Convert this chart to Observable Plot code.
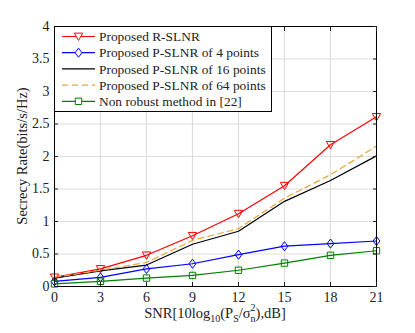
<!DOCTYPE html>
<html><head><meta charset="utf-8">
<script src="https://cdn.jsdelivr.net/npm/d3@7"></script>
<script src="https://cdn.jsdelivr.net/npm/@observablehq/plot@0.6"></script>
<style>body{margin:0;background:#fff}#chart{position:relative;width:415px;height:333px}
#chart svg, #chart svg text, #chart svg tspan{font-family:'Liberation Serif', serif !important}</style>
</head><body><div id="chart"></div>
<script>
const snr = [0, 3, 6, 9, 12, 15, 18, 21];
const rSLNR = [0.14, 0.27, 0.48, 0.78, 1.12, 1.55, 2.18, 2.61];
const pSLNR4 = [0.08, 0.14, 0.27, 0.35, 0.49, 0.62, 0.66, 0.70];
const pSLNR16 = [0.13, 0.24, 0.33, 0.65, 0.85, 1.31, 1.63, 2.01];
const pSLNR64 = [0.14, 0.25, 0.37, 0.71, 0.89, 1.36, 1.72, 2.16];
const nonRobust = [0.04, 0.08, 0.13, 0.17, 0.25, 0.36, 0.48, 0.55];
const xTicks = [0, 3, 6, 9, 12, 15, 18, 21];
const yTicks = [0, 0.5, 1, 1.5, 2, 2.5, 3, 3.5, 4];
const yTickLabels = ["0", "0.5", "1", "1.5", "2", "2.5", "3", "3.5", "4"];
const seriesNames = ["Proposed R-SLNR", "Proposed P-SLNR of 4 points", "Proposed P-SLNR of 16 points", "Proposed P-SLNR of 64 points", "Non robust method in [22]"];

const triDown = {draw(c, size){const r=Math.sqrt(size/Math.PI); c.moveTo(-r,-r*0.8); c.lineTo(r,-r*0.8); c.lineTo(0,r*0.95); c.closePath();}};
const diamond = {draw(c, size){const r=Math.sqrt(size/Math.PI); c.moveTo(0,-r*1.2); c.lineTo(r*0.9,0); c.lineTo(0,r*1.2); c.lineTo(-r*0.9,0); c.closePath();}};
const square = {draw(c, size){const r=Math.sqrt(size/Math.PI); c.rect(-r,-r,2*r,2*r);}};

const series = [
  {name: seriesNames[0], values: rSLNR, color: "#ff0000", symbol: triDown, r: 4.2, dash: null},
  {name: seriesNames[1], values: pSLNR4, color: "#0000ff", symbol: diamond, r: 3.8, dash: null},
  {name: seriesNames[2], values: pSLNR16, color: "#000000", symbol: null, r: 0, dash: null},
  {name: seriesNames[3], values: pSLNR64, color: "#EDA33A", symbol: null, r: 0, dash: "6,4"},
  {name: seriesNames[4], values: nonRobust, color: "#008000", symbol: square, r: 3.2, dash: null}
];

const ff = "Liberation Serif";
const marks = [
  Plot.ruleX(xTicks, {stroke: "#dedede", strokeWidth: 1.2}),
  Plot.ruleY(yTicks, {stroke: "#dedede", strokeWidth: 1.2})
];
for (const s of series) {
  const data = snr.map((x, i) => ({x, y: s.values[i]}));
  marks.push(Plot.line(data, {x: "x", y: "y", stroke: s.color, strokeWidth: 1.2, strokeDasharray: s.dash}));
  if (s.symbol) marks.push(Plot.dot(data, {x: "x", y: "y", stroke: s.color, fill: "none", symbol: s.symbol, r: s.r, strokeWidth: 1}));
}
marks.push(
  Plot.frame({stroke: "black", strokeWidth: 1}),
  Plot.axisX(xTicks, {anchor: "bottom", tickSize: 0, tickPadding: 6, fontSize: 14, fill: "#222"}),
  Plot.axisY(yTicks, {anchor: "left", tickSize: 0, tickPadding: 5, fontSize: 14, fill: "#222", tickFormat: (d, i) => yTickLabels[i]}),
  Plot.axisX(xTicks, {anchor: "bottom", tickSize: -4, text: null}),
  Plot.axisX(xTicks, {anchor: "top", tickSize: -4, text: null}),
  Plot.axisY(yTicks, {anchor: "left", tickSize: -4, text: null}),
  Plot.axisY(yTicks, {anchor: "right", tickSize: -4, text: null})
);

const chart = Plot.plot({
  width: 415, height: 333,
  marginLeft: 54, marginRight: 39, marginTop: 26, marginBottom: 47,
  x: {domain: [0, 21], label: null},
  y: {domain: [0, 4], label: null},
  style: {fontFamily: ff, fontSize: "14px", background: "white", color: "#222"},
  marks
});
document.getElementById("chart").appendChild(chart);

const svg = d3.select(chart);
// axis titles
const xt = svg.append("text").attr("x", 215).attr("y", 318).attr("text-anchor", "middle")
  .attr("font-family", ff).attr("font-size", 14.5).attr("fill", "#222");
xt.append("tspan").text("SNR[10log");
xt.append("tspan").attr("dy", 4).attr("font-size", 10).text("10");
xt.append("tspan").attr("dy", -4).text("(P");
xt.append("tspan").attr("dy", 4).attr("font-size", 10).text("S");
xt.append("tspan").attr("dy", -4).text("/σ");
xt.append("tspan").attr("dy", -7).attr("font-size", 10).text("2");
xt.append("tspan").attr("dy", 11).attr("dx", -5).attr("font-size", 10).text("n");
xt.append("tspan").attr("dy", -4).text("),dB]");

svg.append("text").attr("transform", "translate(22,156) rotate(-90)").attr("text-anchor", "middle")
  .attr("dy", "0.35em").attr("font-family", ff).attr("font-size", 14.5).attr("fill", "#222")
  .text("Secrecy Rate(bits/s/Hz)");

// legend
const lg = svg.append("g").attr("text-anchor", "start");
lg.append("rect").attr("x", 54.5).attr("y", 26.5).attr("width", 217).attr("height", 85)
  .attr("fill", "white").attr("stroke", "black").attr("stroke-width", 1);
series.forEach((s, i) => {
  const y = 36.5 + i * 16.2;
  lg.append("line").attr("x1", 62).attr("x2", 95).attr("y1", y).attr("y2", y)
    .attr("stroke", s.color).attr("stroke-width", 1.2).attr("stroke-dasharray", s.dash);
  if (s.symbol) {
    lg.append("path").attr("transform", `translate(78.5,${y})`)
      .attr("d", d3.symbol().type(s.symbol).size(s.r * s.r * Math.PI)())
      .attr("fill", "white").attr("stroke", s.color);
  }
  lg.append("text").attr("x", 99).attr("y", y).attr("dy", "0.35em").attr("text-anchor", "start")
    .attr("font-family", ff).attr("font-size", 13.4).attr("fill", "#222").text(s.name);
});
</script></body></html>
